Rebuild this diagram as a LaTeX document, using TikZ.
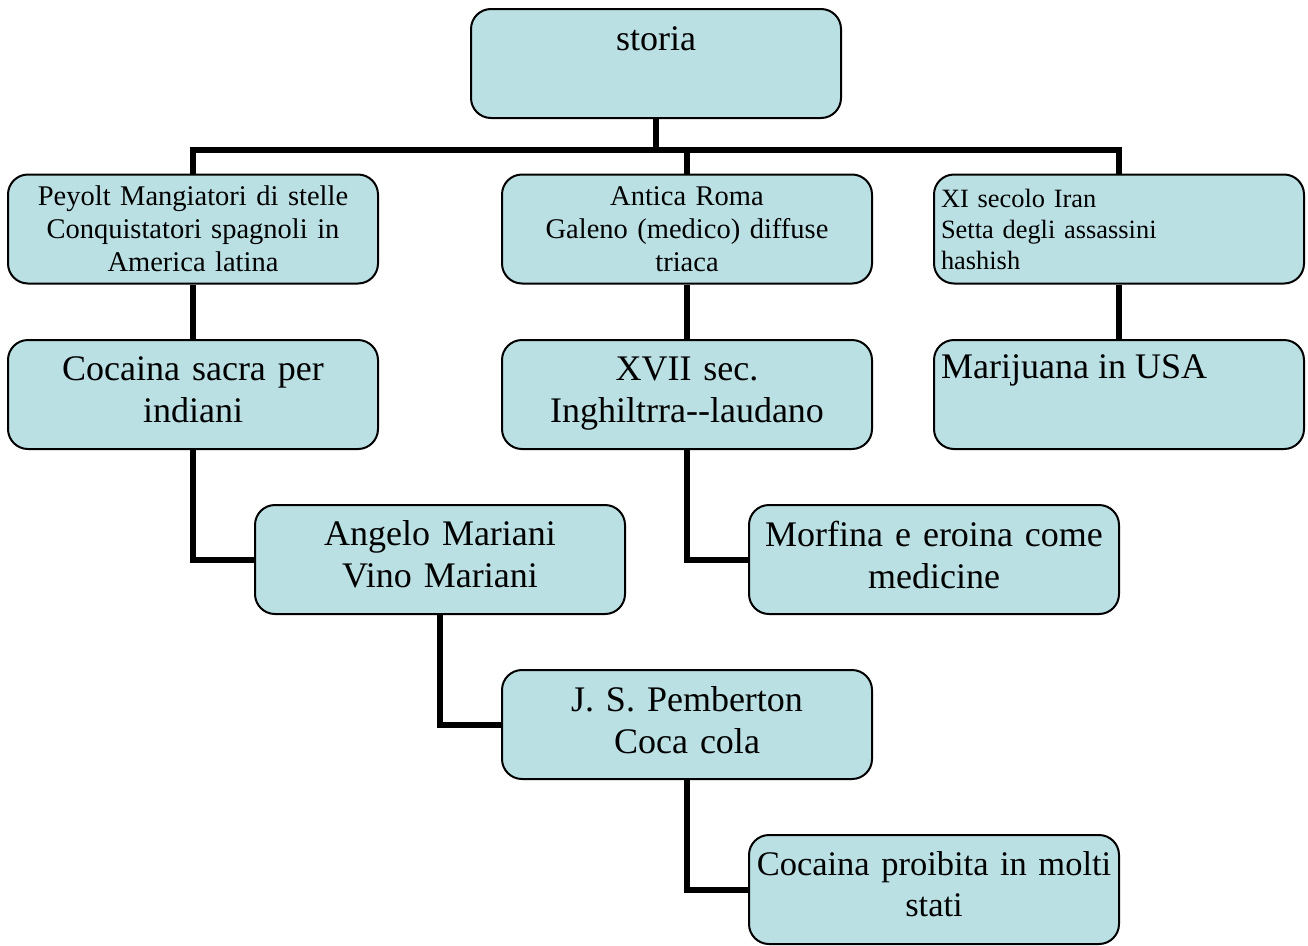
\documentclass[tikz,border=0pt]{standalone}
\usepackage{fontspec}
\setmainfont{Liberation Serif}
\definecolor{boxfill}{RGB}{186,224,228}
\tikzset{
  box/.style={draw=black, line width=2pt, fill=boxfill, rounded corners=20pt,
    minimum width=370pt, minimum height=109pt, inner sep=0pt},
  ctext/.style={align=center, text width=360pt},
  big/.style={font=\fontsize{36}{42}\selectfont},
  raise/.style={text depth=52pt},
  mid/.style={font=\fontsize{28.5}{33}\selectfont},
  small/.style={font=\fontsize{26.4}{31}\selectfont},
  proib/.style={font=\fontsize{34.5}{41}\selectfont},
  conn/.style={line width=6pt, line join=miter}
}
\begin{document}
\begin{tikzpicture}[x=1pt,y=-1pt]
\useasboundingbox (0,0) rectangle (1308,945);
\coordinate (bus) at (0,150);
% boxes
\node[box] (storia) at (656,63.5) {};
\node[box, mid, ctext] (peyolt) at (193,229) {Peyolt Mangiatori di stelle\\Conquistatori spagnoli in\\America latina};
\node[box, mid, ctext] (roma) at (687,229) {Antica Roma\\Galeno (medico) diffuse\\triaca};
\node[box, small, align=left, text width=356pt] (iran) at (1119,229) {XI secolo Iran\\Setta degli assassini\\hashish};
\node[box, big, ctext, raise] (cocsacra) at (193,394.5) {Cocaina sacra per\\indiani};
\node[box, big, ctext, raise] (xvii) at (687,394.5) {XVII sec.\\Inghiltrra-{}-laudano};
\node[box] (marij) at (1119,394.5) {};
\node[box, big, ctext, raise] (angelo) at (440,559.5) {Angelo Mariani\\Vino Mariani};
\node[box, big, ctext, raise] (morfina) at (934,559.5) {Morfina e eroina come\\medicine};
\node[box, big, ctext, raise] (pemb) at (687,724.5) {J. S. Pemberton\\Coca cola};
\node[box, proib, ctext, raise] (proibita) at (934,889.5) {Cocaina proibita in molti\\stati};
% texts placed at top of boxes
\node[big, anchor=base] (storiatxt) at (656,50) {storia};
\node[big, anchor=base west, inner sep=0pt] (marijtxt) at (941,378) {Marijuana in USA};
% connectors
\draw[conn] (storia.south) -- (storia.south |- bus);
\draw[conn] (peyolt.north) |- (iran.north |- bus) -- (iran.north);
\draw[conn] (roma.north) -- (roma.north |- bus);
\draw[conn] (peyolt.south) -- (cocsacra.north);
\draw[conn] (roma.south) -- (xvii.north);
\draw[conn] (iran.south) -- (marij.north);
\draw[conn] (cocsacra.south) |- (angelo.west);
\draw[conn] (xvii.south) |- (morfina.west);
\draw[conn] (angelo.south) |- (pemb.west);
\draw[conn] (pemb.south) |- (proibita.west);
\end{tikzpicture}
\end{document}
